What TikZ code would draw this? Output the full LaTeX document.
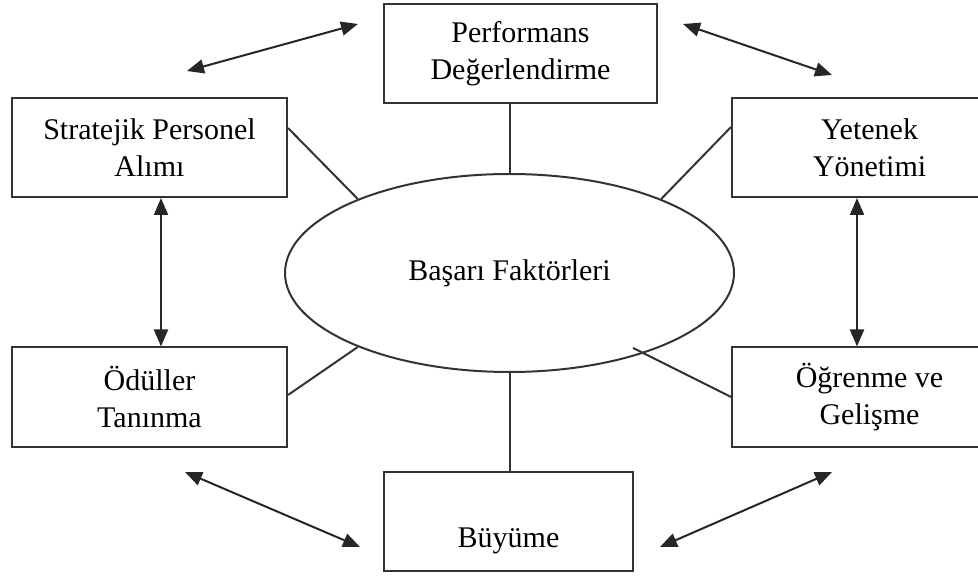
\documentclass[tikz,border=0pt]{standalone}
\usepackage{fontspec}
\setmainfont{Liberation Serif}
\usetikzlibrary{arrows.meta,positioning,shapes.geometric,calc}

\begin{document}
\begin{tikzpicture}[x=0.5pt, y=-0.5pt,
  font=\fontsize{15}{18.5}\selectfont,
  box/.style={draw=black!80, line width=1pt, minimum width=137.5pt,
              minimum height=49.5pt, align=center, inner sep=0pt},
  hub/.style={draw=black!80, line width=1pt, ellipse, minimum width=224.5pt,
              minimum height=99pt, inner sep=0pt},
  link/.style={draw=black!80, line width=1pt},
  arrow/.style={{Triangle[length=8.5pt,width=7pt]}-{Triangle[length=8.5pt,width=7pt]},
                line width=1pt, black!85}]
  \useasboundingbox (0,0) rectangle (978,576);
  \clip (0,0) rectangle (978,576);
  \node[hub] (ell) at (509.5,273) {\raisebox{3pt}{Başarı Faktörleri}};
  \node[box, minimum width=136.5pt] (perf) at (520.5,53.5) {Performans\\Değerlendirme};
  \node[box] (strat) at (149.5,147.5) {Stratejik Personel\\Alımı};
  \node[box] (yet) at (869.5,147.5) {Yetenek\\Yönetimi};
  \node[box] (odul) at (149.5,397) {Ödüller\\Tanınma};
  \node[box] (ogren) at (869.5,397) {Öğrenme ve\\Gelişme};
  \node[box, minimum width=124.5pt] (buyu) at (508.5,521) {\raisebox{-13pt}[0pt][0pt]{Büyüme}};
  \draw[link] (ell.north) -- (ell.north |- perf.south);
  \draw[link] (ell.south) -- (ell.south |- buyu.north);
  \draw[link] ($(strat.east)+(0,-19.5)$) -- (ell.154.9);
  \draw[link] ($(yet.west)+(0,-20.5)$) -- (ell.26.8);
  \draw[link] ($(odul.east)+(0,-2)$) -- (ell.206.6);
  \draw[link] (ogren.west) -- ($(ell.center)+(123.5,75)$);
  \coordinate (tl1) at (187,71);
  \coordinate (tl2) at (358,24);
  \coordinate (tr1) at (683,24);
  \coordinate (tr2) at (832,75);
  \coordinate (bl1) at (185,472);
  \coordinate (bl2) at (360,547);
  \coordinate (br1) at (660,547);
  \coordinate (br2) at (832,472);
  \draw[arrow] (tl1) -- (tl2);
  \draw[arrow] (tr1) -- (tr2);
  \draw[arrow] ($(strat.south)+(11.5,0)$) -- ($(odul.north)+(11.5,0)$);
  \draw[arrow] ($(yet.south)+(-12.5,0)$) -- ($(ogren.north)+(-12.5,0)$);
  \draw[arrow] (bl1) -- (bl2);
  \draw[arrow] (br1) -- (br2);
\end{tikzpicture}
\end{document}
